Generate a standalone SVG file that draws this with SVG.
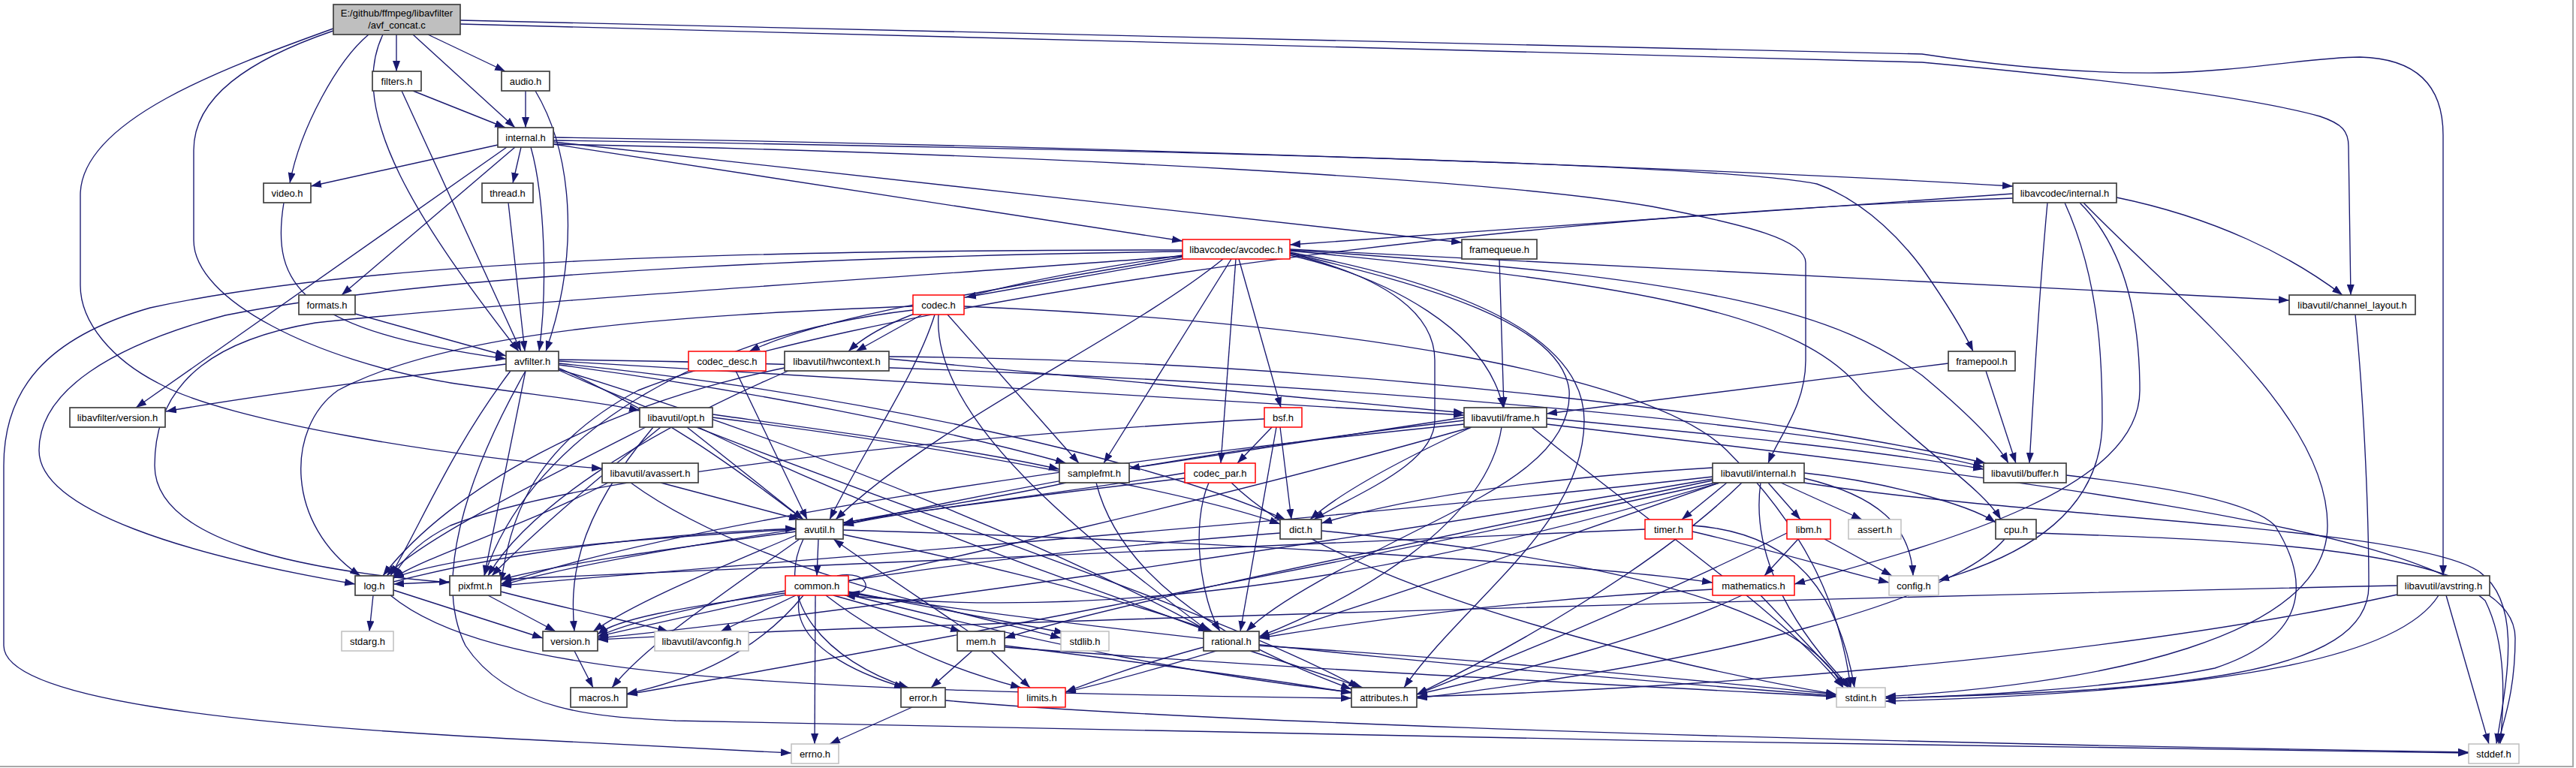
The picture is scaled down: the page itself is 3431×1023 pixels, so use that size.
<svg xmlns="http://www.w3.org/2000/svg" width="3431" height="1023" viewBox="0 0 3431 1023">
<defs>
<marker id="ah" viewBox="0 0 14 10" refX="14" refY="5" markerWidth="14" markerHeight="10" markerUnits="userSpaceOnUse" orient="auto"><path d="M0,0L14,5L0,10z" fill="#191970"/></marker>
<style>
.e path{fill:none;stroke:#191970;stroke-width:1.35;marker-end:url(#ah)}
.n rect{fill:#fff;stroke:#404040;stroke-width:1.7}
.r rect{fill:#fff;stroke:#ff0000;stroke-width:1.5}
.g rect{fill:#fff;stroke:#bfbfbf;stroke-width:1.5}
.m rect{fill:#bfbfbf;stroke:#404040;stroke-width:1.7}
text{font-family:"Liberation Sans",Arial,sans-serif;font-size:13px;fill:#000;text-anchor:middle}
</style>
</defs>
<rect width="3431" height="1023" fill="#fff"/>
<path d="M3427,0V1021H0" fill="none" stroke="#a8a8a8" stroke-width="2"/>
<g id="edges" class="e">
<path d="M528,46 L528,95"/>
<path d="M570,46 L673,95"/>
<path d="M550,46 L686,170"/>
<path d="M491,46 C450,80 400,170 386,244"/>
<path d="M510,46 C460,150 560,300 691,468"/>
<path d="M613,27 L2560,72 C2700,93 2800,98 2880,97 C2990,95 3080,76 3143,76 C3225,78 3254,120 3254,180 L3254,767"/>
<path d="M613,32 L2560,83 C2800,105 3000,130 3090,155 C3120,165 3128,175 3128,195 L3131,393"/>
<path d="M444,41 C330,80 258,130 258,200 L258,320 C258,400 420,480 600,510 C700,525 800,535 852,547"/>
<path d="M444,38 C300,90 107,160 107,260 L107,380 C107,430 150,480 214,512 C300,560 600,610 802,624"/>
<path d="M550,121 L673,170"/>
<path d="M535,121 L694,468"/>
<path d="M700,121 L700,170"/>
<path d="M713,121 C760,200 775,330 727,468"/>
<path d="M663,193 L414,248"/>
<path d="M694,196 L683,244"/>
<path d="M707,196 C725,260 730,380 718,468"/>
<path d="M686,196 L455,393"/>
<path d="M675,196 L181,543"/>
<path d="M737,189 L1947,323"/>
<path d="M737,192 L1575,321"/>
<path d="M737,183 C1500,195 2300,225 2681,248"/>
<path d="M737,187 C1600,200 2300,220 2420,245 C2490,270 2540,330 2560,357 C2590,400 2615,440 2628,468"/>
<path d="M737,192 C1400,205 2000,240 2200,275 C2330,300 2405,320 2405,350 L2405,480 C2405,540 2370,580 2355,617"/>
<path d="M378,270 C360,380 400,440 674,478"/>
<path d="M677,270 L699,468"/>
<path d="M473,418 L674,474"/>
<path d="M674,485 C550,500 350,525 221,548"/>
<path d="M680,494 C600,600 560,700 520,767"/>
<path d="M700,494 L645,767"/>
<path d="M744,490 C900,560 1000,640 1070,692"/>
<path d="M744,486 C1000,520 1250,570 1420,617"/>
<path d="M744,484 C1100,520 1500,600 1712,692"/>
<path d="M744,481 L1950,553"/>
<path d="M744,479 C1600,490 2400,560 2642,622"/>
<path d="M744,492 C1100,600 1450,750 1610,841"/>
<path d="M744,493 C1100,650 1600,800 1810,916"/>
<path d="M700,494 C640,600 570,760 620,860 C680,950 800,955 900,960 C1500,975 2600,995 3288,1003"/>
<path d="M1575,345 L1286,396"/>
<path d="M1575,342 C1300,390 1100,420 998,468"/>
<path d="M1575,340 C1300,380 1180,420 1130,468"/>
<path d="M1629,345 C1500,450 1250,560 1113,692"/>
<path d="M1640,345 L1470,617"/>
<path d="M1646,345 L1626,617"/>
<path d="M1650,345 L1706,543"/>
<path d="M1718,338 C1850,370 1911,420 1911,480 L1911,560 C1911,620 1800,660 1750,692"/>
<path d="M1718,340 C1850,370 1980,440 2002,543"/>
<path d="M1718,337 C1900,380 2080,430 2090,520 C2095,600 2000,650 1900,700 C1800,750 1700,800 1660,841"/>
<path d="M1718,336 C1950,380 2110,450 2110,560 C2110,700 1950,800 1870,916"/>
<path d="M1718,334 C2200,380 2400,420 2480,520 C2560,600 2640,650 2665,692"/>
<path d="M1718,333 C2300,370 2450,420 2560,500 C2620,550 2660,590 2675,617"/>
<path d="M1718,332 L3049,400"/>
<path d="M1575,335 C1200,340 600,360 300,420 C150,460 52,520 52,600 C52,680 250,740 473,778"/>
<path d="M1575,333 C1000,333 500,345 200,410 C60,450 5,520 5,620 L5,860 C5,930 300,965 700,985 C850,993 950,998 1054,1003"/>
<path d="M1575,341 C1200,370 700,400 420,430 C300,450 206,500 206,620 C206,720 400,760 599,776"/>
<path d="M1228,419 L1140,468"/>
<path d="M1245,419 C1220,500 1150,600 1105,692"/>
<path d="M1262,419 L1437,617"/>
<path d="M1250,419 C1240,560 1450,720 1610,841"/>
<path d="M1216,408 C900,420 600,440 450,520 C380,570 380,700 480,767"/>
<path d="M1216,413 C900,450 700,600 645,767"/>
<path d="M1284,408 C1800,430 2200,500 2300,600 C2400,700 2450,800 2465,916"/>
<path d="M980,494 L1075,692"/>
<path d="M1184,478 L1950,550"/>
<path d="M1184,475 C1800,480 2400,560 2645,617"/>
<path d="M1045,490 C800,540 600,650 510,767"/>
<path d="M1050,494 C850,580 700,680 650,767"/>
<path d="M2645,494 L2685,617"/>
<path d="M2595,484 L2060,551"/>
<path d="M1997,345 L2003,543"/>
<path d="M2681,258 L1718,326"/>
<path d="M2681,264 C1900,290 1100,420 850,520 C700,600 680,700 667,776"/>
<path d="M2727,270 C2715,400 2710,500 2703,617"/>
<path d="M2750,270 C2800,380 2800,500 2800,560 C2800,680 2700,740 2582,773"/>
<path d="M2770,270 C2830,330 2850,420 2850,520 C2850,650 2600,720 2390,778"/>
<path d="M2819,263 C2950,290 3050,340 3120,393"/>
<path d="M2775,270 C2900,400 3100,550 3100,700 C3100,850 2800,910 2511,928"/>
<path d="M3137,419 C3150,550 3155,700 3155,780 C3155,900 2900,920 2511,930"/>
<path d="M3193,780 C2500,795 1200,830 796,852"/>
<path d="M3193,792 C2800,880 2200,920 1887,928"/>
<path d="M3248,793 C3200,870 3000,920 2511,934"/>
<path d="M3258,793 L3315,991"/>
<path d="M2281,623 C2000,640 1850,670 1760,697"/>
<path d="M2300,643 L2240,692"/>
<path d="M2355,643 L2398,692"/>
<path d="M2372,643 L2480,692"/>
<path d="M2403,630 C2500,640 2620,670 2658,696"/>
<path d="M2403,637 C2500,660 2545,700 2548,767"/>
<path d="M2320,643 C2200,760 2000,870 1887,925"/>
<path d="M2345,643 C2330,750 2400,850 2465,916"/>
<path d="M2290,643 C1900,780 1600,880 1419,922"/>
<path d="M2403,643 C2700,690 3200,700 3300,760 C3360,800 3340,900 3325,991"/>
<path d="M2281,640 C1900,720 1500,800 1338,850"/>
<path d="M2285,643 C1800,750 1100,880 835,925"/>
<path d="M2281,635 C1700,700 1000,750 667,780"/>
<path d="M2281,638 C1800,720 1100,820 796,850"/>
<path d="M2290,643 C1900,760 1500,830 1125,793"/>
<path d="M2191,705 L524,778"/>
<path d="M2254,708 C2350,730 2450,760 2516,776"/>
<path d="M2254,700 C2400,710 2450,800 2470,916"/>
<path d="M2430,718 L2520,767"/>
<path d="M2380,710 C2200,800 2000,880 1887,925"/>
<path d="M2395,718 L2350,767"/>
<path d="M2281,785 C2000,800 1800,830 1677,850"/>
<path d="M2320,793 C2200,850 2000,900 1887,925"/>
<path d="M2345,793 L2462,916"/>
<path d="M2670,718 C2600,800 2300,880 1887,930"/>
<path d="M2712,710 C3000,720 3350,730 3350,850 C3350,930 3330,970 3328,991"/>
<path d="M1760,707 C2100,740 2400,800 2455,916"/>
<path d="M1705,710 C1300,740 900,800 796,848"/>
<path d="M2752,633 C2900,650 3000,670 3030,700 C3080,780 3070,850 2950,890 C2800,920 2600,928 2511,930"/>
<path d="M2060,557 C2300,580 2500,600 2642,625"/>
<path d="M1960,569 C1850,620 1780,660 1745,692"/>
<path d="M1950,556 L1504,624"/>
<path d="M1950,560 C1600,600 1300,660 1123,699"/>
<path d="M1950,565 C1400,620 900,700 667,778"/>
<path d="M1960,569 C1500,700 1000,800 796,848"/>
<path d="M2000,569 C1980,700 1800,800 1677,848"/>
<path d="M2040,569 C2200,700 2380,820 2455,916"/>
<path d="M2060,565 C2700,640 3200,700 3310,800 C3340,860 3335,940 3330,991"/>
<path d="M1705,569 L1720,692"/>
<path d="M1694,569 L1648,617"/>
<path d="M1700,569 L1652,841"/>
<path d="M1684,558 C1200,585 750,640 600,700 C560,720 535,745 524,770"/>
<path d="M1420,643 C1300,670 1200,680 1123,697"/>
<path d="M1460,643 C1500,800 1700,880 1800,918"/>
<path d="M1578,630 C1400,660 1200,680 1123,700"/>
<path d="M1610,643 C1585,700 1600,800 1625,841"/>
<path d="M1640,643 C1800,800 2300,900 2446,925"/>
<path d="M1578,637 C1200,680 800,740 667,780"/>
<path d="M915,569 L1070,692"/>
<path d="M949,552 C1150,580 1300,600 1411,625"/>
<path d="M949,556 C1300,600 1600,660 1705,698"/>
<path d="M930,569 C1200,700 1450,780 1610,841"/>
<path d="M860,569 C700,650 560,720 515,767"/>
<path d="M880,569 C780,650 700,720 655,767"/>
<path d="M870,569 C760,700 760,780 765,841"/>
<path d="M880,643 L1065,692"/>
<path d="M810,643 C700,700 570,740 524,770"/>
<path d="M840,643 C1000,760 1300,820 1413,850"/>
<path d="M1090,718 L1088,767"/>
<path d="M1070,718 C1030,800 1100,880 1210,916"/>
<path d="M1123,712 C1350,760 1500,800 1615,841"/>
<path d="M1060,713 C950,760 850,800 790,841"/>
<path d="M1065,718 C950,800 860,860 815,916"/>
<path d="M1123,706 C1600,720 2100,750 2281,776"/>
<path d="M1060,705 C800,720 600,740 524,770"/>
<path d="M1060,708 C900,730 750,750 667,772"/>
<path d="M497,793 L492,841"/>
<path d="M524,786 L723,850"/>
<path d="M520,793 C650,900 1000,920 1800,930"/>
<path d="M524,775 C700,730 900,710 1060,704"/>
<path d="M650,793 L740,841"/>
<path d="M667,788 C750,810 850,830 890,841"/>
<path d="M1086,793 L1085,991"/>
<path d="M1060,793 L960,841"/>
<path d="M1046,790 C900,810 820,825 796,845"/>
<path d="M1070,793 C1000,880 900,910 835,924"/>
<path d="M1110,793 L1280,841"/>
<path d="M1130,788 C1250,810 1350,830 1418,843"/>
<path d="M1065,793 C1050,860 1150,900 1205,916"/>
<path d="M1100,793 C1200,870 1300,900 1360,916"/>
<path d="M1130,792 C1400,860 1600,900 1800,922"/>
<path d="M1130,790 C1600,860 2100,900 2446,927"/>
<path d="M1115,767 C1160,758 1165,795 1131,789"/>
<path d="M1295,867 L1240,916"/>
<path d="M1320,867 L1372,916"/>
<path d="M1338,860 C1500,880 1700,905 1800,923"/>
<path d="M1338,862 C1700,890 2200,915 2446,928"/>
<path d="M1290,841 C1200,780 1140,740 1110,718"/>
<path d="M1603,862 C1500,890 1450,910 1419,922"/>
<path d="M1665,867 L1815,916"/>
<path d="M1677,860 C2000,880 2300,910 2446,925"/>
<path d="M1215,942 L1105,991"/>
<path d="M1259,933 C1500,955 2200,985 3288,1002"/>
<path d="M765,867 L790,916"/>
</g>
<g id="n-main" class="m"><rect x="444" y="6" width="169" height="40"/><text x="528.5" y="22">E:/github/ffmpeg/libavfilter</text><text x="528.5" y="38">/avf_concat.c</text></g>
<g id="n-filters" class="n"><rect x="496" y="95" width="65" height="26"/><text x="528.5" y="112.5">filters.h</text></g>
<g id="n-audio" class="n"><rect x="668" y="95" width="64" height="26"/><text x="700" y="112.5">audio.h</text></g>
<g id="n-internal" class="n"><rect x="663" y="170" width="74" height="26"/><text x="700" y="187.5">internal.h</text></g>
<g id="n-video" class="n"><rect x="351" y="244" width="63" height="26"/><text x="382.5" y="261.5">video.h</text></g>
<g id="n-thread" class="n"><rect x="642" y="244" width="68" height="26"/><text x="676" y="261.5">thread.h</text></g>
<g id="n-lcinternal" class="n"><rect x="2681" y="244" width="138" height="26"/><text x="2750" y="261.5">libavcodec/internal.h</text></g>
<g id="n-avcodec" class="r"><rect x="1575" y="319" width="143" height="26"/><text x="1646.5" y="336.5">libavcodec/avcodec.h</text></g>
<g id="n-framequeue" class="n"><rect x="1947" y="319" width="100" height="26"/><text x="1997" y="336.5">framequeue.h</text></g>
<g id="n-formats" class="n"><rect x="398" y="393" width="75" height="26"/><text x="435.5" y="410.5">formats.h</text></g>
<g id="n-codec" class="r"><rect x="1216" y="393" width="68" height="26"/><text x="1250" y="410.5">codec.h</text></g>
<g id="n-chlayout" class="n"><rect x="3049" y="393" width="168" height="26"/><text x="3133" y="410.5">libavutil/channel_layout.h</text></g>
<g id="n-avfilter" class="n"><rect x="674" y="468" width="70" height="26"/><text x="709" y="485.5">avfilter.h</text></g>
<g id="n-codecdesc" class="r"><rect x="917" y="468" width="103" height="26"/><text x="968.5" y="485.5">codec_desc.h</text></g>
<g id="n-hwcontext" class="n"><rect x="1045" y="468" width="139" height="26"/><text x="1114.5" y="485.5">libavutil/hwcontext.h</text></g>
<g id="n-framepool" class="n"><rect x="2595" y="468" width="89" height="26"/><text x="2639.5" y="485.5">framepool.h</text></g>
<g id="n-lafversion" class="n"><rect x="93" y="543" width="127" height="26"/><text x="156.5" y="560.5">libavfilter/version.h</text></g>
<g id="n-opt" class="n"><rect x="852" y="543" width="97" height="26"/><text x="900.5" y="560.5">libavutil/opt.h</text></g>
<g id="n-bsf" class="r"><rect x="1684" y="543" width="50" height="26"/><text x="1709" y="560.5">bsf.h</text></g>
<g id="n-frame" class="n"><rect x="1950" y="543" width="110" height="26"/><text x="2005" y="560.5">libavutil/frame.h</text></g>
<g id="n-avassert" class="n"><rect x="802" y="617" width="128" height="26"/><text x="866" y="634.5">libavutil/avassert.h</text></g>
<g id="n-samplefmt" class="n"><rect x="1411" y="617" width="93" height="26"/><text x="1457.5" y="634.5">samplefmt.h</text></g>
<g id="n-codecpar" class="r"><rect x="1578" y="617" width="94" height="26"/><text x="1625" y="634.5">codec_par.h</text></g>
<g id="n-luinternal" class="n"><rect x="2281" y="617" width="122" height="26"/><text x="2342" y="634.5">libavutil/internal.h</text></g>
<g id="n-buffer" class="n"><rect x="2642" y="617" width="110" height="26"/><text x="2697" y="634.5">libavutil/buffer.h</text></g>
<g id="n-avutil" class="n"><rect x="1060" y="692" width="63" height="26"/><text x="1091.5" y="709.5">avutil.h</text></g>
<g id="n-dict" class="n"><rect x="1705" y="692" width="55" height="26"/><text x="1732.5" y="709.5">dict.h</text></g>
<g id="n-timer" class="r"><rect x="2191" y="692" width="63" height="26"/><text x="2222.5" y="709.5">timer.h</text></g>
<g id="n-libm" class="r"><rect x="2380" y="692" width="58" height="26"/><text x="2409" y="709.5">libm.h</text></g>
<g id="n-assert" class="g"><rect x="2462" y="692" width="70" height="26"/><text x="2497" y="709.5">assert.h</text></g>
<g id="n-cpu" class="n"><rect x="2658" y="692" width="54" height="26"/><text x="2685" y="709.5">cpu.h</text></g>
<g id="n-log" class="n"><rect x="473" y="767" width="51" height="26"/><text x="498.5" y="784.5">log.h</text></g>
<g id="n-pixfmt" class="n"><rect x="599" y="767" width="68" height="26"/><text x="633" y="784.5">pixfmt.h</text></g>
<g id="n-common" class="r"><rect x="1046" y="767" width="84" height="26"/><text x="1088" y="784.5">common.h</text></g>
<g id="n-mathematics" class="r"><rect x="2281" y="767" width="109" height="26"/><text x="2335.5" y="784.5">mathematics.h</text></g>
<g id="n-config" class="g"><rect x="2516" y="767" width="66" height="26"/><text x="2549" y="784.5">config.h</text></g>
<g id="n-avstring" class="n"><rect x="3193" y="767" width="123" height="26"/><text x="3254.5" y="784.5">libavutil/avstring.h</text></g>
<g id="n-stdarg" class="g"><rect x="455" y="841" width="69" height="26"/><text x="489.5" y="858.5">stdarg.h</text></g>
<g id="n-version" class="n"><rect x="723" y="841" width="73" height="26"/><text x="759.5" y="858.5">version.h</text></g>
<g id="n-avconfig" class="g"><rect x="872" y="841" width="125" height="26"/><text x="934.5" y="858.5">libavutil/avconfig.h</text></g>
<g id="n-mem" class="n"><rect x="1275" y="841" width="63" height="26"/><text x="1306.5" y="858.5">mem.h</text></g>
<g id="n-stdlib" class="g"><rect x="1413" y="841" width="64" height="26"/><text x="1445" y="858.5">stdlib.h</text></g>
<g id="n-rational" class="n"><rect x="1603" y="841" width="74" height="26"/><text x="1640" y="858.5">rational.h</text></g>
<g id="n-macros" class="n"><rect x="760" y="916" width="75" height="26"/><text x="797.5" y="933.5">macros.h</text></g>
<g id="n-error" class="n"><rect x="1200" y="916" width="59" height="26"/><text x="1229.5" y="933.5">error.h</text></g>
<g id="n-limits" class="r"><rect x="1356" y="916" width="63" height="26"/><text x="1387.5" y="933.5">limits.h</text></g>
<g id="n-attributes" class="n"><rect x="1800" y="916" width="87" height="26"/><text x="1843.5" y="933.5">attributes.h</text></g>
<g id="n-stdint" class="g"><rect x="2446" y="916" width="65" height="26"/><text x="2478.5" y="933.5">stdint.h</text></g>
<g id="n-errno" class="g"><rect x="1054" y="991" width="63" height="26"/><text x="1085.5" y="1008.5">errno.h</text></g>
<g id="n-stddef" class="g"><rect x="3288" y="991" width="67" height="26"/><text x="3321.5" y="1008.5">stddef.h</text></g>
</svg>
